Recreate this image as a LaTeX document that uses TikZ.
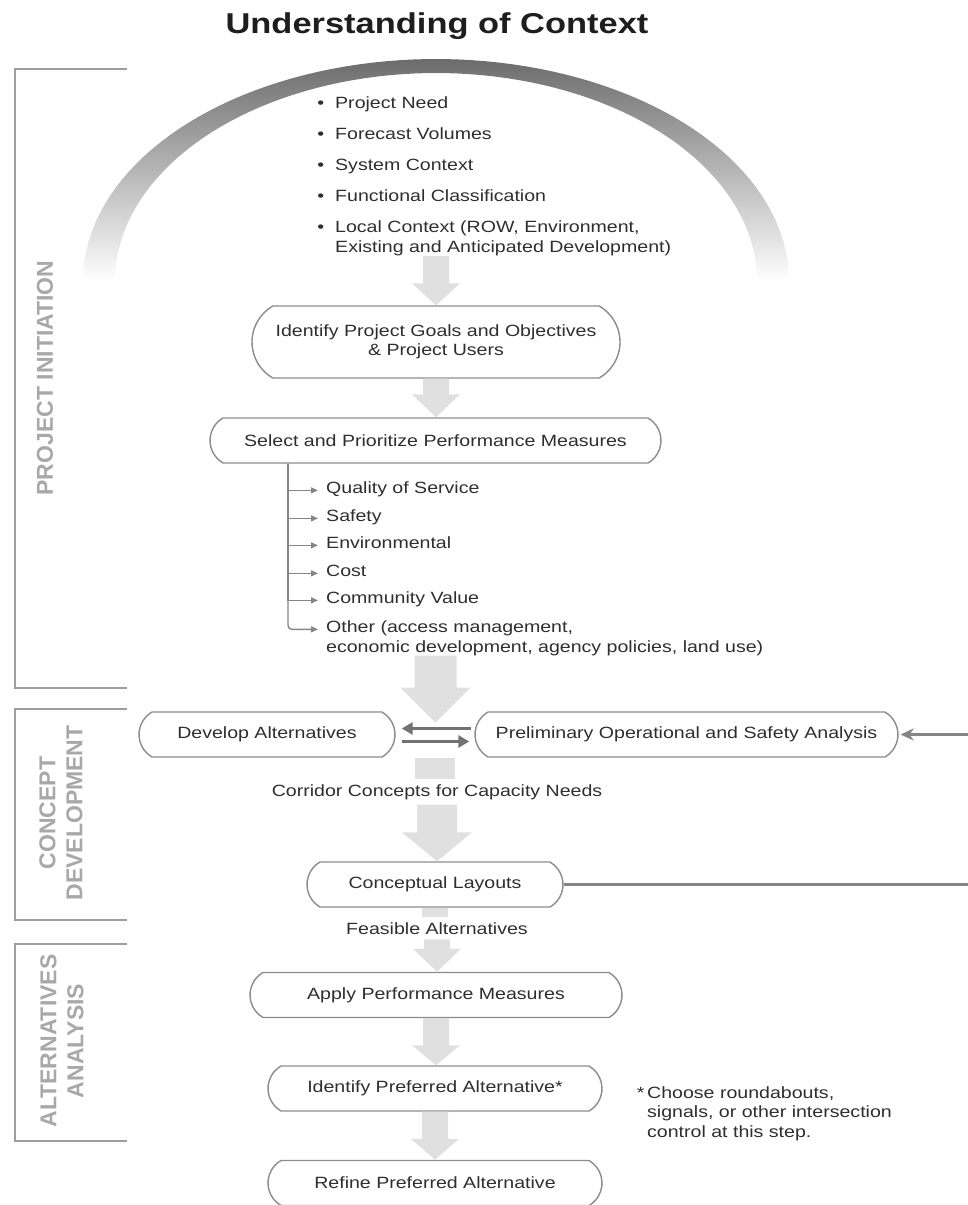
\documentclass[tikz,border=0pt]{standalone}
\usepackage{fontspec}
\setmainfont{Liberation Sans}[FakeStretch=1.2]
\newfontfamily\sidefont{Liberation Sans}
\usetikzlibrary{shapes.misc,arrows.meta,calc}

\definecolor{ink}{HTML}{2E2E2E}
\definecolor{titleink}{HTML}{1E1E1E}
\definecolor{rimgray}{HTML}{8C8C8C}
\definecolor{flowgray}{HTML}{E0E0E0}
\definecolor{bracketgray}{HTML}{9E9E9E}
\definecolor{sidegray}{HTML}{A8A8A8}
\definecolor{loopgray}{HTML}{858585}
\definecolor{pairgray}{HTML}{727272}
\definecolor{archtop}{HTML}{6C6C6C}
\definecolor{archmid}{HTML}{ABABAB}

\tikzset{
  stepbox/.style={draw=rimgray, line width=1.4pt, fill=white, rounded rectangle,
    rounded rectangle arc length=120, minimum height=45pt, inner sep=0pt, text=ink},
  note/.style={text=ink, inner sep=0pt},
  bracket/.style={draw=bracketgray, line width=2.5pt},
  sidelabel/.style={text=sidegray, rotate=90, align=center,
    font=\sidefont\bfseries\fontsize{23}{27}\selectfont},
  sublink/.style={draw=loopgray, line width=1.4pt, -{Triangle[length=7pt,width=6pt]}},
  pairlink/.style={draw=pairgray, line width=3.5pt, -{Triangle[length=11pt,width=12pt]}},
  backlink/.style={draw=loopgray, line width=3pt},
}

\newcommand{\bigarrow}[5]{%
  \fill[flowgray] let \p1=(#1), \p2=(#2) in
    (\x1-#3pt,\y1) -- (\x1+#3pt,\y1) -- (\x1+#3pt,\y2+#5pt) -- (\x1+#4pt,\y2+#5pt)
    -- (\x1,\y2) -- (\x1-#4pt,\y2+#5pt) -- (\x1-#3pt,\y2+#5pt) -- cycle;}
\newcommand{\bigshaft}[3]{%
  \fill[flowgray] let \p1=(#1), \p2=(#2) in (\x1-#3pt,\y1) rectangle (\x1+#3pt,\y2);}

\begin{document}
\begin{tikzpicture}[x=1pt,y=-1pt,font=\fontsize{16.3}{19.5}\selectfont]
\useasboundingbox (0,0) rectangle (968,1205);

\node[font=\bfseries\fontsize{28.7}{34}\selectfont, text=titleink, anchor=base] (title) at (437,33) {Understanding of Context};

\shade[top color=archtop, middle color=archmid, bottom color=white]
  plot[domain=180:0, samples=80] ({436+353*cos(\x)},{281-222*sin(\x)})
  -- plot[domain=0:180, samples=80] ({436+321*cos(\x)},{281-208*sin(\x)}) -- cycle;

\draw[bracket] (127,69) -- (15,69) -- (15,688) -- (127,688);
\draw[bracket] (127,709) -- (15,709) -- (15,920) -- (127,920);
\draw[bracket] (127,944) -- (15,944) -- (15,1141) -- (127,1141);
\node[sidelabel] (initlabel) at (45,378) {PROJECT INITIATION};
\node[sidelabel] (conclabel) at (61,813) {CONCEPT\\DEVELOPMENT};
\node[sidelabel] (altlabel) at (62,1041) {ALTERNATIVES\\ANALYSIS};

\node[note, anchor=base west] (need1) at (335,108.5) {\llap{\textbullet\hspace{11pt}}Project Need};
\node[note, anchor=base west] (need2) at (335,139.5) {\llap{\textbullet\hspace{11pt}}Forecast Volumes};
\node[note, anchor=base west] (need3) at (335,170.5) {\llap{\textbullet\hspace{11pt}}System Context};
\node[note, anchor=base west] (need4) at (335,201.5) {\llap{\textbullet\hspace{11pt}}Functional Classification};
\node[note, anchor=base west] (need5) at (335,232.5) {\llap{\textbullet\hspace{11pt}}Local Context (ROW, Environment,};
\node[note, anchor=base west] (need6) at (335,252.5) {Existing and Anticipated Development)};

\node[stepbox, minimum width=368pt, minimum height=72pt, align=center] (goals) at (436,342)
  {Identify Project Goals and Objectives\\\& Project Users};
\node[stepbox, minimum width=451pt] (sel) at (435.5,440.5) {Select and Prioritize Performance Measures};

\coordinate (trunk) at ($(sel.south)+(-147.5,0)$);
\node[note, anchor=base west] (qos) at (326,493) {Quality of Service};
\node[note, anchor=base west] (safety) at (326,521) {Safety};
\node[note, anchor=base west] (env) at (326,548) {Environmental};
\node[note, anchor=base west] (cost) at (326,576) {Cost};
\node[note, anchor=base west] (comm) at (326,603) {Community Value};
\node[note, anchor=base west] (oth1) at (326,632) {Other (access management,};
\node[note, anchor=base west] (oth2) at (326,652) {economic development, agency policies, land use)};
\foreach \n in {qos,safety,env,cost,comm}
  \draw[sublink] (trunk) |- ([xshift=-8pt]\n.mid west);
\draw[sublink, rounded corners=4pt] (trunk) |- ([xshift=-8pt]oth1.mid west);

\node[stepbox, minimum width=256pt] (dev) at (267,734.5) {Develop Alternatives};
\node[stepbox, minimum width=423pt] (prelim) at (686.5,734.5) {Preliminary Operational and Safety Analysis};
\coordinate (gap) at ($(dev.east)!.5!(prelim.west)$);
\node[note, inner sep=5pt, anchor=base] (corr) at (437,796) {Corridor Concepts for Capacity Needs};
\node[stepbox, minimum width=256pt] (layout) at (435,884.5) {Conceptual Layouts};
\node[note, inner sep=5pt, anchor=base] (feas) at (437,934) {Feasible Alternatives};
\node[stepbox, minimum width=372pt] (apply) at (436,995) {Apply Performance Measures};
\node[stepbox, minimum width=334pt] (pref) at (435,1088.5) {Identify Preferred Alternative*};
\node[stepbox, minimum width=334pt] (refine) at (435,1183) {Refine Preferred Alternative};
\node[note, anchor=north west, align=left] (star) at (647,1086)
  {\llap{*\,}Choose roundabouts,\\signals, or other intersection\\control at this step.};

\bigarrow{goals.north |- need6.south}{goals.north}{13}{24}{22}
\bigarrow{goals.south}{sel.north}{13}{24}{23}
\bigarrow{sel.south |- oth2.south}{$(gap)+(0,-12)$}{21}{35}{35}
\bigshaft{gap |- dev.south}{corr.north}{20}
\bigarrow{corr.south}{layout.north}{20}{35}{29}
\bigshaft{layout.south}{feas.north}{13}
\bigarrow{feas.south}{apply.north}{13}{24}{23}
\bigarrow{apply.south}{pref.north}{13}{24}{20}
\bigarrow{pref.south}{refine.north}{13}{24}{21}

\draw[pairlink, shorten >=6pt, shorten <=3pt] ([yshift=6pt]prelim.west) -- ([yshift=6pt]dev.east);
\draw[pairlink, shorten >=5pt, shorten <=6pt] ([yshift=-7pt]dev.east) -- ([yshift=-7pt]prelim.west);

\coordinate (rimA) at (968,734.5);
\coordinate (rimB) at (968,884.5);
\draw[backlink, -{Stealth[length=13pt,width=12pt]}, shorten >=2pt] (rimA) -- (prelim.east);
\draw[backlink] (layout.east) -- (rimB);
\end{tikzpicture}
\end{document}
